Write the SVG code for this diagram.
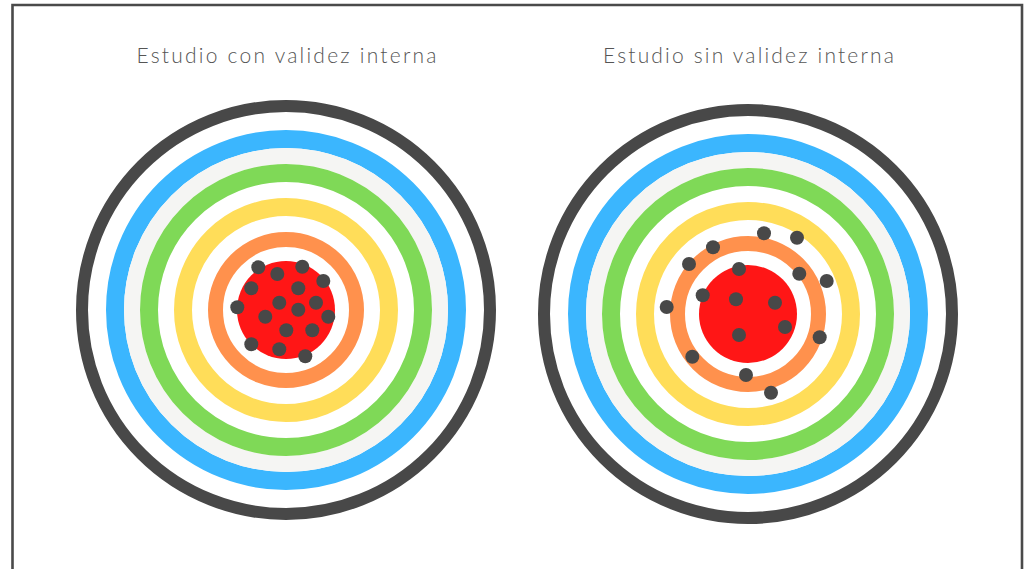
<svg xmlns="http://www.w3.org/2000/svg" width="1030" height="569" viewBox="0 0 1030 569">
<style>
.title{font-family:"Lato","Open Sans","Liberation Sans",sans-serif;font-weight:300;font-size:21px;fill:#555555;text-anchor:middle}
.ring{fill:none}
.dark{stroke:#484848;stroke-width:12}
.gap{stroke:#ffffff;stroke-width:18}
.blue{stroke:#3bb6fe;stroke-width:18}
.gray{stroke:#f5f5f3;stroke-width:16}
.green{stroke:#7fd957;stroke-width:18}
.yellow{stroke:#ffdd59;stroke-width:18}
.orange{stroke:#ff914d;stroke-width:15}
.red{fill:#ff1616}
.dot{fill:#484848}
</style>
<defs>
<g id="target">
<circle r="210" fill="#ffffff"/>
<circle class="ring dark" r="204"/>
<circle class="ring blue" r="171"/>
<circle class="ring gray" r="154"/>
<circle class="ring green" r="137"/>
<circle class="ring yellow" r="103"/>
<circle class="ring orange" r="70.5"/>
<circle class="red" r="49"/>
</g>
</defs>
<rect width="1030" height="569" fill="#ffffff"/>
<path d="M12.5 600 V5 H1022 V600" fill="none" stroke="#4a4a4a" stroke-width="2.6"/>
<g id="left-study">
<text class="title" x="286.5" y="63" textLength="300" lengthAdjust="spacing">Estudio con validez interna</text>
<use href="#target" x="286" y="310"/>
<g class="dot">
<circle cx="258.3" cy="267.3" r="7"/>
<circle cx="277.3" cy="274" r="7"/>
<circle cx="302.3" cy="266.7" r="7"/>
<circle cx="323.3" cy="281" r="7"/>
<circle cx="251.3" cy="288.3" r="7"/>
<circle cx="298.3" cy="288.3" r="7"/>
<circle cx="237.3" cy="307.3" r="7"/>
<circle cx="279.3" cy="302.7" r="7"/>
<circle cx="316" cy="302.7" r="7"/>
<circle cx="298.3" cy="309.7" r="7"/>
<circle cx="265.3" cy="316.7" r="7"/>
<circle cx="328.3" cy="316.7" r="7"/>
<circle cx="286.3" cy="330.3" r="7"/>
<circle cx="312.3" cy="330.3" r="7"/>
<circle cx="251.3" cy="344.3" r="7"/>
<circle cx="279.3" cy="349.3" r="7"/>
<circle cx="305.3" cy="356.3" r="7"/>
</g>
</g>
<g id="right-study">
<text class="title" x="748.5" y="63" textLength="291" lengthAdjust="spacing">Estudio sin validez interna</text>
<use href="#target" x="748" y="314"/>
<g class="dot">
<circle cx="764" cy="233.3" r="7"/>
<circle cx="797" cy="237.7" r="7"/>
<circle cx="713" cy="247.3" r="7"/>
<circle cx="689" cy="264" r="7"/>
<circle cx="739" cy="269" r="7"/>
<circle cx="799.3" cy="273.7" r="7"/>
<circle cx="826.7" cy="281" r="7"/>
<circle cx="702.7" cy="295.3" r="7"/>
<circle cx="736" cy="299.3" r="7"/>
<circle cx="775" cy="302.7" r="7"/>
<circle cx="666.7" cy="307" r="7"/>
<circle cx="785" cy="327" r="7"/>
<circle cx="739" cy="335" r="7"/>
<circle cx="819.7" cy="337.3" r="7"/>
<circle cx="692.3" cy="356.7" r="7"/>
<circle cx="746" cy="375" r="7"/>
<circle cx="771" cy="392.7" r="7"/>
</g>
</g>
</svg>
